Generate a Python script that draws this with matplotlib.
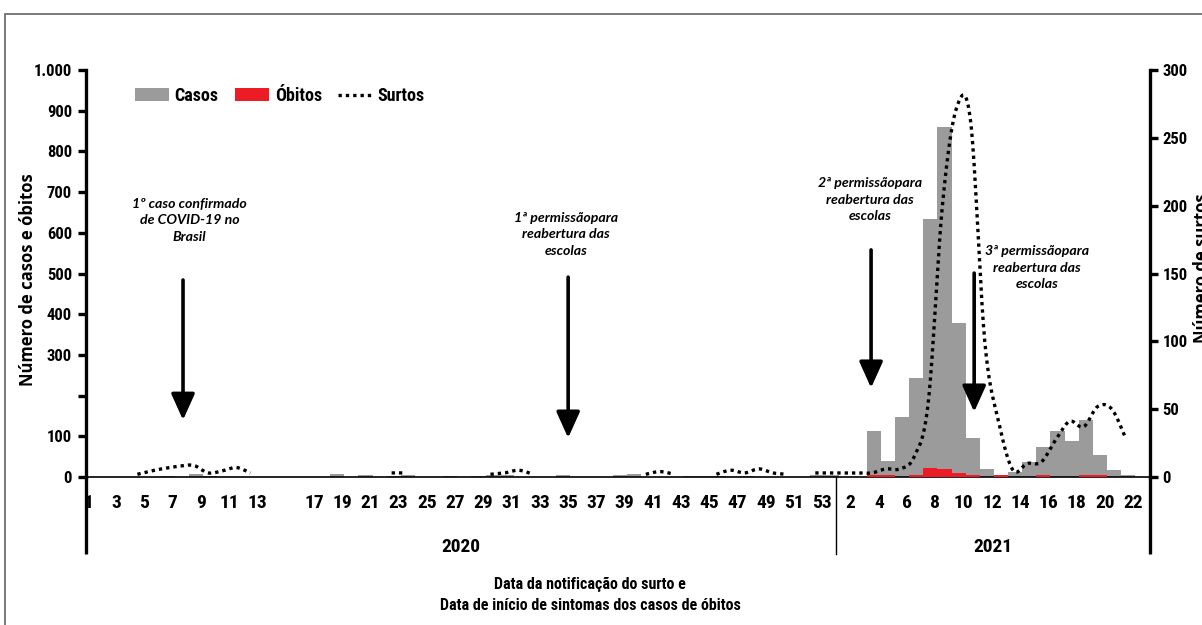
import numpy as np
import matplotlib
matplotlib.use("Agg")
import matplotlib.pyplot as plt
from matplotlib import font_manager as fm
from matplotlib.patches import Patch, Rectangle
from matplotlib.lines import Line2D

# ---------------- data ----------------
weeks_2020 = list(range(1, 54))
weeks_2021 = list(range(1, 23))

casos_2020 = [0, 0, 0, 0, 0, 3, 0, 8, 3, 0,
              0, 0, 0, 0, 0, 0, 0, 7, 0, 4,
              0, 3, 4, 0, 0, 3, 0, 3, 5, 5,
              0, 0, 0, 4, 0, 0, 0, 5, 7, 0,
              0, 0, 3, 3, 3, 0, 3, 0, 0, 0,
              0, 4, 5]
casos_2021 = [0, 0, 112, 40, 147, 243, 634, 860, 378, 96,
              20, 5, 12, 37, 74, 113, 88, 140, 54, 17,
              5, 0]

obitos_2020 = [0] * 53
obitos_2021 = [0, 0, 5, 5, 0, 5, 23, 19, 11, 6,
               0, 5, 0, 0, 5, 0, 0, 5, 5, 0,
               0, 0]

nan = np.nan
surtos_2020 = [nan, nan, nan, 2, 4.5, 6.5, 8, 8.5, 3, 4.5,
               7, 3, nan, nan, nan, nan, nan, nan, nan, nan,
               nan, 3, 3, nan, nan, nan, nan, nan, 2, 3,
               5, 2, nan, nan, nan, nan, nan, nan, nan, 2,
               4, 2, nan, nan, 2, 5, 3, 6, 3, 2,
               nan, 3, 3]
surtos_2021 = [3, 3, 3, 6, 6, 15, 55, 200, 272, 262,
               100, 40, 5, 10, 11, 27, 41, 37, 52, 50,
               28, nan]

xtick_weeks_2020 = [1, 3, 5, 7, 9, 11, 13] + list(range(17, 54, 2))
xtick_weeks_2021 = list(range(2, 23, 2))
year_labels = ["2020", "2021"]

left_ticks = [0, 100, 200, 300, 400, 500, 600, 700, 800, 900, 1000]
left_ticklabels = ["0", "100", "", "300", "400", "500", "600", "700", "800", "900", "1.000"]
right_ticks = [0, 50, 100, 150, 200, 250, 300]

events = [
    "1º caso confirmado\nde COVID-19 no\nBrasil",
    "1ª permissãopara\nreabertura das\nescolas",
    "2ª permissãopara\nreabertura das\nescolas",
    "3ª permissãopara\nreabertura das\nescolas",
]

# ---------------- fonts ----------------
names = {f.name for f in fm.fontManager.ttflist}
def pick(*cands):
    for c in cands:
        if c in names:
            return c
    return "DejaVu Sans"
NARROW = pick("Liberation Sans Narrow", "Roboto Condensed", "Open Sans Condensed", "Liberation Sans")
HUMAN = pick("Open Sans", "Noto Sans", "Lato")
ITAL = pick("Lato", "Open Sans", "Noto Sans")

# ---------------- derived positions ----------------
n20, n21 = len(weeks_2020), len(weeks_2021)
idx = np.arange(n20 + n21)
casos = np.array(casos_2020 + casos_2021, float)
obitos = np.array(obitos_2020 + obitos_2021, float)
surtos = np.array(surtos_2020 + surtos_2021, float)
centers = idx + 0.5

GREY = "#9b9b9b"
RED = "#ed1c24"

W, H = 1202, 625
fig = plt.figure(figsize=(W / 100, H / 100), dpi=100)
fig.patch.set_facecolor("white")

L, R, T, B = 86, 1150, 70, 477
ax = fig.add_axes([L / W, 1 - B / H, (R - L) / W, (B - T) / H])
ax2 = ax.twinx()

ax.set_xlim(-0.14, 75.2)
ax.set_ylim(0, 1000)
ax2.set_ylim(0, 300)

ax.bar(centers + 0.15, casos, width=1.0, color=GREY, linewidth=0, zorder=2)
ax.bar(centers + 0.15, obitos, width=1.0, color=RED, linewidth=0, zorder=3)


def catmull(x, y, n=20):
    X, Y = [], []
    ok = np.isfinite(y)
    i = 0
    while i < len(y):
        if not ok[i]:
            i += 1
            continue
        j = i
        while j < len(y) and ok[j]:
            j += 1
        sx, sy = x[i:j], y[i:j]
        if len(sx) >= 2:
            px = np.concatenate([[sx[0]], sx, [sx[-1]]])
            py = np.concatenate([[sy[0]], sy, [sy[-1]]])
            t = np.linspace(0, 1, n, endpoint=False)
            for k in range(1, len(px) - 2):
                for P, OUT in ((px, X), (py, Y)):
                    p0, p1, p2, p3 = P[k - 1], P[k], P[k + 1], P[k + 2]
                    OUT.extend(0.5 * (2 * p1 + (-p0 + p2) * t
                                      + (2 * p0 - 5 * p1 + 4 * p2 - p3) * t ** 2
                                      + (-p0 + 3 * p1 - 3 * p2 + p3) * t ** 3))
            X.append(px[-2]); Y.append(py[-2])
            X.append(np.nan); Y.append(np.nan)
        i = j
    return np.array(X), np.array(Y)


sx, sy = catmull(centers, surtos)
ax2.plot(sx, sy, color="black", lw=2.4, linestyle=(0, (1, 1.2)),
         dash_capstyle="butt", zorder=4)

# ---------------- axes styling ----------------
for s in ("top", "right"):
    ax.spines[s].set_visible(False)
for s in ("top", "left", "bottom"):
    ax2.spines[s].set_visible(False)
ax.spines["left"].set_linewidth(2.4)
ax.spines["bottom"].set_linewidth(1.2)
ax2.spines["right"].set_linewidth(2.4)

ax.set_yticks(left_ticks)
ax.set_yticklabels(left_ticklabels)
ax.tick_params(axis="y", direction="out", length=6, width=2.4, pad=4)
for lab in ax.get_yticklabels():
    lab.set_fontfamily(NARROW); lab.set_fontweight("bold"); lab.set_fontsize(12)

ax2.set_yticks(right_ticks)
ax2.set_yticklabels([str(v) for v in right_ticks])
ax2.tick_params(axis="y", direction="out", length=6, width=2.4, pad=3)
for lab in ax2.get_yticklabels():
    lab.set_fontfamily(NARROW); lab.set_fontweight("bold"); lab.set_fontsize(12)

xt = [weeks_2020.index(w) for w in xtick_weeks_2020] + [n20 + weeks_2021.index(w) for w in xtick_weeks_2021]
xl = [str(w) for w in xtick_weeks_2020] + [str(w) for w in xtick_weeks_2021]
ax.set_xticks(xt)
ax.set_xticklabels(xl)
ax.tick_params(axis="x", length=0, pad=12)
for lab in ax.get_xticklabels():
    lab.set_fontfamily(NARROW); lab.set_fontweight("bold"); lab.set_fontsize(14)

# spines extended below the axis
xt_tr = ax.get_xaxis_transform()
ax.plot([0, 0], [0, -0.19], transform=ax.transAxes, color="black", lw=2.4, clip_on=False, solid_capstyle="butt")
ax.plot([1, 1], [0, -0.19], transform=ax.transAxes, color="black", lw=2.4, clip_on=False, solid_capstyle="butt")
ax.plot([n20, n20], [0, -0.19], transform=xt_tr, color="black", lw=1.0, clip_on=False)

# year labels
ax.text((ax.get_xlim()[0] + n20) / 2, -0.172, year_labels[0], transform=xt_tr, ha="center", va="center",
        fontfamily=NARROW, fontweight="bold", fontsize=14)
ax.text((n20 + ax.get_xlim()[1]) / 2, -0.172, year_labels[1], transform=xt_tr, ha="center", va="center",
        fontfamily=NARROW, fontweight="bold", fontsize=14)

# axis titles
fig.text(28 / W, 1 - 280 / H, "Número de casos e óbitos", rotation=90, ha="center", va="center",
         fontfamily=HUMAN, fontweight="bold", fontsize=12)
fig.text(1193 / W, 1 - 268 / H, "Número de surtos", rotation=90, ha="left", va="center",
         fontfamily=HUMAN, fontweight="bold", fontsize=12)
fig.text(590 / W, 1 - 584 / H, "Data da notificação do surto e", ha="center", va="center",
         fontfamily=NARROW, fontweight="bold", fontsize=11.5)
fig.text(590 / W, 1 - 605 / H, "Data de início de sintomas dos casos de óbitos", ha="center", va="center",
         fontfamily=NARROW, fontweight="bold", fontsize=11.5)

# ---------------- annotations ----------------
text_pos = [(7.2, 631), (33.85, 597), (55.4, 681), (67.2, 514)]
arrows = [(6.73, 484, 140), (34.0, 491, 96), (55.45, 558, 219), (62.75, 501, 160)]
for (tx, ty), txt in zip(text_pos, events):
    ax.text(tx, ty, txt, ha="center", va="center", fontfamily=ITAL, fontstyle="italic",
            fontweight="bold", fontsize=10.2, linespacing=1.45, zorder=6)
for (axx, y0, y1) in arrows:
    ax.annotate("", xy=(axx, y1), xytext=(axx, y0),
                arrowprops=dict(arrowstyle="-|>,head_length=0.8,head_width=0.36",
                                mutation_scale=20, lw=2.6, color="black",
                                shrinkA=0, shrinkB=0), zorder=6)

# ---------------- legend ----------------
handles = [Patch(facecolor=GREY, edgecolor="none"),
           Patch(facecolor=RED, edgecolor="none"),
           Line2D([], [], color="black", lw=2.4, linestyle=(0, (1, 1.2)), dash_capstyle="butt")]
leg = ax2.legend(handles, ["Casos", "Óbitos", "Surtos"], loc="upper left",
                 bbox_to_anchor=((135 - L) / (R - L), (B - 87) / (B - T)),
                 ncol=3, frameon=False, borderpad=0, borderaxespad=0,
                 handlelength=1.9, handletextpad=0.3, columnspacing=0.9,
                 prop=fm.FontProperties(family=NARROW, weight="bold", size=13))

# outer frame
fig.add_artist(Rectangle((4.5 / W, -0.1), 1.2, 1 - 14 / H + 0.1, transform=fig.transFigure,
                         fill=False, edgecolor="#6e6e6e", lw=1.3, clip_on=False))

fig.savefig("out.png", dpi=100)
